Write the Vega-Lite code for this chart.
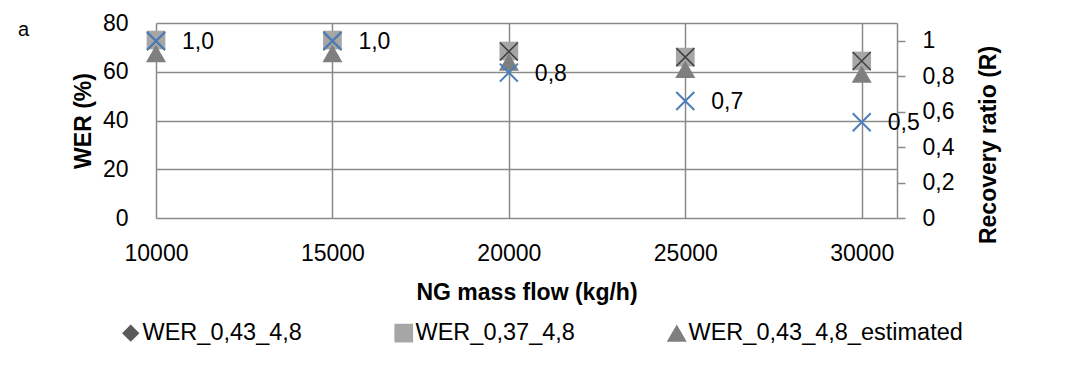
{
  "$schema": "https://vega.github.io/schema/vega-lite/v6.json",
  "width": 741,
  "height": 195,
  "autosize": {"type": "none"},
  "padding": {"left": 156, "top": 23, "right": 177, "bottom": 173},
  "background": "white",
  "title": {
    "text": "a",
    "anchor": "start",
    "frame": "group",
    "orient": "top",
    "font": "Liberation Sans",
    "fontSize": 20,
    "fontWeight": "normal",
    "color": "#000000",
    "baseline": "alphabetic",
    "offset": 0,
    "dx": -138,
    "dy": 44
  },
  "datasets": {
    "wer": [
      {"flow": 10000, "series": "WER_0,43_4,8", "wer": 72.5},
      {"flow": 15000, "series": "WER_0,43_4,8", "wer": 72.5},
      {"flow": 20000, "series": "WER_0,43_4,8", "wer": 68.3},
      {"flow": 25000, "series": "WER_0,43_4,8", "wer": 66},
      {"flow": 30000, "series": "WER_0,43_4,8", "wer": 64.4},
      {"flow": 10000, "series": "WER_0,37_4,8", "wer": 73},
      {"flow": 15000, "series": "WER_0,37_4,8", "wer": 73},
      {"flow": 20000, "series": "WER_0,37_4,8", "wer": 68.5},
      {"flow": 25000, "series": "WER_0,37_4,8", "wer": 66},
      {"flow": 30000, "series": "WER_0,37_4,8", "wer": 64.4},
      {"flow": 10000, "series": "WER_0,43_4,8_estimated", "wer": 67.5},
      {"flow": 15000, "series": "WER_0,43_4,8_estimated", "wer": 67.5},
      {"flow": 20000, "series": "WER_0,43_4,8_estimated", "wer": 64},
      {"flow": 25000, "series": "WER_0,43_4,8_estimated", "wer": 61},
      {"flow": 30000, "series": "WER_0,43_4,8_estimated", "wer": 59}
    ],
    "ratio": [
      {"flow": 10000, "r": 1.0},
      {"flow": 15000, "r": 1.0},
      {"flow": 20000, "r": 0.82},
      {"flow": 25000, "r": 0.66},
      {"flow": 30000, "r": 0.54}
    ]
  },
  "layer": [
    {
      "layer": [
        {
          "data": {"name": "wer"},
          "mark": {"type": "point", "filled": true, "opacity": 1, "strokeWidth": 0},
          "encoding": {
            "x": {
              "field": "flow",
              "type": "quantitative",
              "scale": {"domain": [10000, 31000], "nice": false, "zero": false},
              "axis": {
                "values": [10000, 15000, 20000, 25000, 30000],
                "format": "d",
                "grid": true,
                "ticks": false,
                "tickSize": 0,
                "domain": false,
                "labelPadding": 24,
                "labelFlush": false,
                "labelOverlap": false,
                "title": "NG mass flow (kg/h)",
                "titleBaseline": "alphabetic",
                "titleY": 81.5
              }
            },
            "y": {
              "field": "wer",
              "type": "quantitative",
              "scale": {"domain": [0, 80], "nice": false},
              "axis": {
                "orient": "left",
                "values": [0, 20, 40, 60, 80],
                "grid": true,
                "ticks": false,
                "tickSize": 0,
                "domain": false,
                "labelPadding": 28,
                "title": "WER (%)",
                "titleAngle": 270,
                "titleBaseline": "alphabetic",
                "titleX": -66,
                "titleY": 97.5
              }
            },
            "shape": {
              "field": "series",
              "type": "nominal",
              "scale": {
                "domain": ["WER_0,43_4,8", "WER_0,37_4,8", "WER_0,43_4,8_estimated"],
                "range": ["diamond", "square", "triangle-up"]
              },
              "legend": {"title": null}
            },
            "color": {
              "field": "series",
              "type": "nominal",
              "scale": {
                "domain": ["WER_0,43_4,8", "WER_0,37_4,8", "WER_0,43_4,8_estimated"],
                "range": ["#595959", "#a6a6a6", "#7f7f7f"]
              },
              "legend": {"title": null}
            },
            "size": {
              "field": "series",
              "type": "nominal",
              "scale": {
                "domain": ["WER_0,43_4,8", "WER_0,37_4,8", "WER_0,43_4,8_estimated"],
                "range": [300, 400, 380]
              },
              "legend": null
            }
          }
        },
        {
          "data": {"name": "wer"},
          "transform": [{"filter": "datum.series === 'WER_0,43_4,8'"}],
          "mark": {
            "type": "point",
            "shape": "M-1,-1L1,1M-1,1L1,-1",
            "filled": false,
            "opacity": 1,
            "stroke": "#404040",
            "strokeWidth": 1.5,
            "size": 324
          },
          "encoding": {
            "x": {"field": "flow", "type": "quantitative"},
            "y": {"field": "wer", "type": "quantitative"}
          }
        }
      ]
    },
    {
      "data": {"name": "ratio"},
      "encoding": {
        "x": {"field": "flow", "type": "quantitative"},
        "y": {
          "field": "r",
          "type": "quantitative",
          "scale": {"domain": [0, 1.1], "nice": false},
          "axis": {
            "orient": "right",
            "values": [0, 0.2, 0.4, 0.6, 0.8, 1],
            "format": ".1~f",
            "grid": false,
            "domain": true,
            "ticks": true,
            "tickSize": 8,
            "labelPadding": 17,
            "title": "Recovery ratio (R)",
            "titleAngle": 270,
            "titleBaseline": "alphabetic",
            "titleX": 98.5,
            "titleY": 121.5
          }
        }
      },
      "layer": [
        {
          "mark": {
            "type": "point",
            "shape": "M-1,-1L1,1M-1,1L1,-1",
            "filled": false,
            "opacity": 1,
            "stroke": "#4a7ebb",
            "strokeWidth": 2,
            "size": 324
          }
        },
        {
          "mark": {
            "type": "text",
            "align": "left",
            "baseline": "middle",
            "dx": 26,
            "dy": 1,
            "font": "Liberation Sans",
            "fontSize": 23,
            "color": "#000000"
          },
          "encoding": {
            "text": {"field": "r", "type": "quantitative", "format": ".1f"}
          }
        }
      ]
    }
  ],
  "resolve": {"scale": {"y": "independent"}},
  "config": {
    "font": "Liberation Sans",
    "locale": {
      "number": {"decimal": ",", "thousands": " ", "grouping": [3], "currency": ["", " €"]}
    },
    "view": {"stroke": null},
    "axis": {
      "labelFont": "Liberation Sans",
      "labelFontSize": 23,
      "labelColor": "#000000",
      "titleFont": "Liberation Sans",
      "titleFontSize": 23,
      "titleFontWeight": "bold",
      "titleColor": "#000000",
      "gridColor": "#8a8a8a",
      "gridWidth": 1.5,
      "gridOpacity": 1,
      "domainColor": "#8a8a8a",
      "domainWidth": 1.5,
      "tickColor": "#8a8a8a",
      "tickWidth": 1.5
    },
    "legend": {
      "orient": "none",
      "legendX": -37,
      "legendY": 298,
      "direction": "horizontal",
      "labelFont": "Liberation Sans",
      "labelFontSize": 23.5,
      "labelColor": "#000000",
      "labelLimit": 400,
      "symbolSize": 150,
      "symbolOpacity": 1,
      "symbolStrokeWidth": 0,
      "labelOffset": 0,
      "columnPadding": 90,
      "padding": 0
    }
  }
}
